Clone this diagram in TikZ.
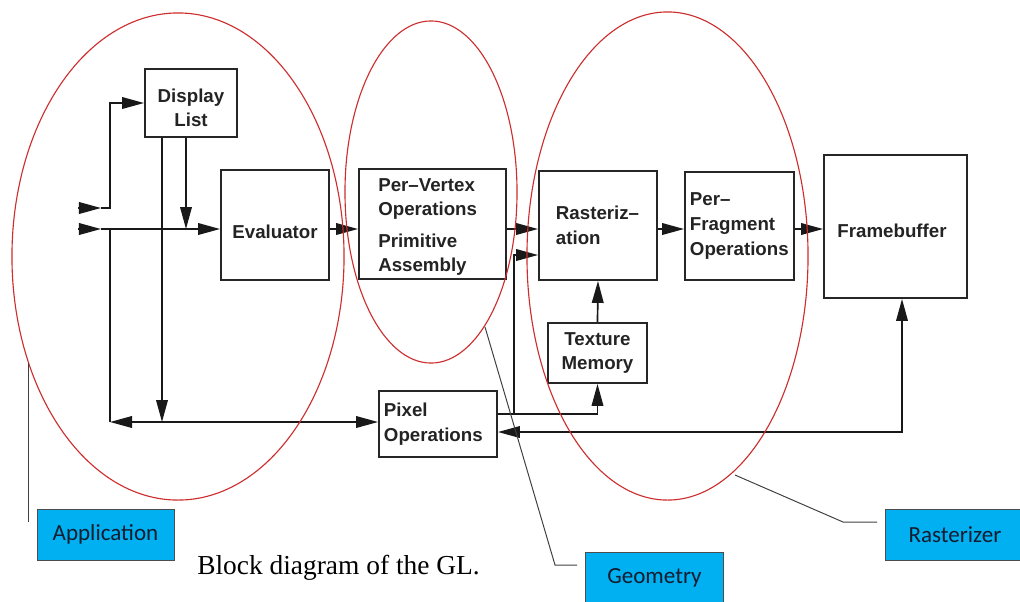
\documentclass[tikz,border=0pt]{standalone}
\usepackage{fontspec}
\setmainfont{Liberation Sans}
\newfontfamily\calloutfont{Carlito}
\newfontfamily\captionfont{Liberation Serif}
\usetikzlibrary{arrows.meta}
\usetikzlibrary{calc}

\definecolor{ovalred}{RGB}{205,45,45}
\definecolor{calloutblue}{RGB}{0,176,240}
\definecolor{labelgray}{RGB}{35,35,35}
\definecolor{callouttext}{RGB}{20,28,48}
\newcommand{\blockfont}{\fontsize{13.3}{17.5}\selectfont\bfseries}

\begin{document}
\begin{tikzpicture}[x=0.025cm, y=-0.025cm,
    block/.style={draw=black!85, line width=1.3pt, inner sep=0pt, text=labelgray, font=\blockfont},
    lbl/.style={inner sep=0pt, text=labelgray, font=\blockfont, align=center},
    wire/.style={line width=1.2pt, black!90},
    arr/.style={wire, -{Triangle[length=5.5mm,width=2.9mm]}},
    arrs/.style={wire, {Triangle[length=5.5mm,width=2.9mm]}-{Triangle[length=5.5mm,width=2.9mm]}},
    oval/.style={ovalred, line width=0.8pt},
    callout/.style={draw=black!70, line width=0.6pt, fill=calloutblue, text=callouttext,
        font=\calloutfont\fontsize{16.4}{19}\selectfont, inner sep=0pt},
    pointer/.style={black!75, line width=0.7pt}]
                \useasboundingbox (0,0) rectangle (1020,601);

                % Define the blocks of the pipeline
                \node[block, minimum width=2.3cm, minimum height=1.7cm] (dlist) at (191,103) {};
                \node[lbl] (dlisttxt) at (191,108) {Display\\List};
                \node[block, minimum width=2.7cm, minimum height=2.75cm] (eval) at (275,225) {};
                \node[lbl] (evaltxt) at (275,232) {Evaluator};
                \node[block, minimum width=3.675cm, minimum height=2.75cm] (pervertex) at (432.5,224) {};
                \node[lbl, align=left, anchor=west] (pvtxt) at (378,227)
                    {Per–Vertex\\Operations\\[5pt]Primitive\\Assembly};
                \node[block, minimum width=2.95cm, minimum height=2.725cm, text width=2.1cm,
                    inner xsep=0.425cm, align=left] (rast) at (598,225.5) {Rasteriz–\\ation};
                \node[block, minimum width=2.725cm, minimum height=2.7cm, text width=2.475cm,
                    inner xsep=0.125cm, align=left] (perfrag) at (739.5,226) {Per–\\Fragment\\Operations};
                \node[block, minimum width=3.575cm, minimum height=3.575cm] (fb) at (895.5,226.5) {};
                \node[lbl] (fbtxt) at (892,231) {Framebuffer};
                \node[block, minimum width=2.475cm, minimum height=1.5cm, align=center] (tex) at (597.5,353) {Texture\\Memory};
                \node[block, minimum width=2.95cm, minimum height=1.65cm, text width=2.7cm,
                    inner xsep=0.125cm, align=left] (pix) at (438,424) {Pixel\\Operations};

                % Define the points where the wires turn
                \coordinate (in1) at (78,229);
                \coordinate (in1tip) at (101,229);
                \coordinate (in2) at (78,208);
                \coordinate (in2tip) at (101,208);
                \coordinate (up) at (110,208);
                \coordinate (down) at (110,229);
                \coordinate (pixrow) at (110,422);
                \coordinate (rastjoin) at (514,414);
                \coordinate (rastin) at (514,255);
                \coordinate (fbturn) at (902,432);

                \draw[arr] (in1) -- (in1tip);
                \draw[arr] (in1tip) -- (in1 -| eval.west);
                \draw[arr] (in2) -- (in2tip);
                \draw[arr] (in2tip) -- (up) |- (dlist.west);
                \draw[arr] ([xshift=-0.125cm]dlist.south) -- ([xshift=-0.125cm]dlist.south |- in1);
                \draw[arr] ([xshift=-0.725cm]dlist.south) -- ([xshift=-0.725cm]dlist.south |- pixrow);
                \draw[wire] (down) -- (pixrow);
                \draw[arrs] (pixrow) -- (pixrow -| pix.west);
                \draw[arr] (in1 -| eval.east) -- (in1 -| pervertex.west);
                \draw[arr] (in1 -| pervertex.east) -- (in1 -| rast.west);
                \draw[arr] (in1 -| rast.east) -- (in1 -| perfrag.west);
                \draw[arr] (in1 -| perfrag.east) -- (in1 -| fb.west);
                \draw[wire] (rastjoin -| pix.east) -- (rastjoin);
                \draw[arr] (rastjoin) -- (rastin) -- (rastin -| rast.west);
                \draw[arr] (rastjoin) -| (tex.south);
                \draw[arr] (tex.north) -- (rast.south);
                \draw[arrs] (fbturn -| pix.east) -- (fbturn) -- (fbturn |- fb.south);

                % the three stages
                \draw[oval] (178,256.5) ellipse [x radius=4.15cm, y radius=6.0875cm];
                \draw[oval] (431,192) ellipse [x radius=2.15cm, y radius=4.275cm];
                \draw[oval] (667.5,256) ellipse [x radius=3.5125cm, y radius=6.1cm];

                % callouts
                \node[callout, minimum width=3.425cm, minimum height=1.275cm] (app) at (105.5,534.5) {Application};
                \node[callout, minimum width=3.45cm, minimum height=1.25cm, anchor=north west] (geo) at (585,552) {Geometry};
                \node[callout, minimum width=3.475cm, minimum height=1.275cm, anchor=north west] (ras) at (885,509) {Rasterizer};

                \coordinate (apptop) at (28,363);
                \coordinate (appfoot) at (28,522);
                \coordinate (geotop) at (485,327);
                \coordinate (geoknee) at (555,565);
                \coordinate (geofoot) at (577,565);
                \coordinate (rastop) at (735,475);
                \coordinate (rasknee) at (843,522);
                \coordinate (rasfoot) at (877,522);
                \draw[pointer] (apptop) -- (appfoot);
                \draw[pointer] (geotop) -- (geoknee) -- (geofoot);
                \draw[pointer] (rastop) -- (rasknee) -- (rasfoot);

                \node[font=\captionfont\fontsize{19.5}{22}\selectfont, anchor=base west, inner sep=0pt] (caption) at (197,574)
                    {Block diagram of the GL.};
            \end{tikzpicture}
\end{document}
